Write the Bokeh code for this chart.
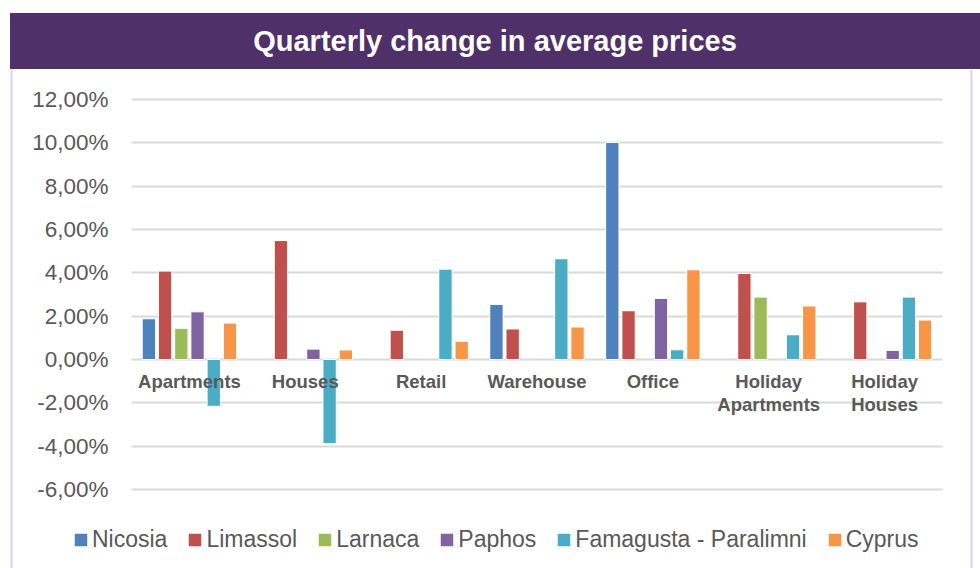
import numpy as np
from bokeh.plotting import figure
from bokeh.models import (ColumnDataSource, Range1d, FixedTicker, Legend, Div, Span)
from bokeh.transform import dodge
from bokeh.layouts import column
from bokeh.core.properties import value
from bokeh.embed import file_html
from bokeh.resources import INLINE

title_text = "Quarterly change in average prices"
categories = ["Apartments", "Houses", "Retail", "Warehouse", "Office", "Holiday Apartments", "Holiday Houses"]
category_labels = ["Apartments", "Houses", "Retail", "Warehouse", "Office", "Holiday\nApartments", "Holiday\nHouses"]
series_names = ["Nicosia", "Limassol", "Larnaca", "Paphos", "Famagusta - Paralimni", "Cyprus"]
nan = float("nan")
nicosia   = [1.88, nan, nan, 2.54, 10.02, nan, nan]
limassol  = [4.08, 5.49, 1.35, 1.41, 2.25, 3.97, 2.66]
larnaca   = [1.44, nan, nan, nan, nan, 2.88, nan]
paphos    = [2.20, 0.48, nan, nan, 2.82, nan, 0.42]
famagusta = [-2.16, -3.88, 4.17, 4.65, 0.45, 1.14, 2.88]
cyprus    = [1.68, 0.44, 0.84, 1.50, 4.14, 2.47, 1.82]
y_ticks = [-6, -4, -2, 0, 2, 4, 6, 8, 10, 12]
y_tick_labels = [f"{t:.2f}".replace(".", ",") + "%" for t in y_ticks]

colors = ["#4F81BD", "#C0504D", "#9BBB59", "#8064A2", "#4BACC6", "#F79646"]
series_values = [nicosia, limassol, larnaca, paphos, famagusta, cyprus]
text_col = "#595959"
FONT = "Liberation Sans"

# ---- banner ----
banner = Div(text=title_text, width=970, height=56, margin=(13, 0, 0, 10),
             styles={"background-color": "#4F3069", "color": "white", "font-size": "29px",
                     "font-weight": "bold", "font-family": FONT, "text-align": "center",
                     "line-height": "56px"})

# ---- main chart (frame fills the whole figure; plot area 131..942 px, 12% at 30px, -6% at 420px) ----
ncat = len(categories)
W, H = 980, 499
px_x = (942 - 131) / ncat            # pixels per category
px_y = (420 - 30) / (y_ticks[-1] - y_ticks[0])   # pixels per percentage point
x_range = Range1d(-131 / px_x, ncat + (W - 942) / px_x)
y_range = Range1d(y_ticks[0] - (H - 420) / px_y, y_ticks[-1] + 30 / px_y)

p = figure(width=W, height=H, x_range=x_range, y_range=y_range,
           x_axis_location=None, y_axis_location=None, toolbar_location=None,
           output_backend="svg", min_border=0)
p.min_border_left = p.min_border_right = p.min_border_top = p.min_border_bottom = 0
p.outline_line_color = None
p.xgrid.visible = False
p.ygrid.ticker = FixedTicker(ticks=y_ticks)
p.ygrid.grid_line_color = "#D9D9D9"
p.ygrid.grid_line_width = 2
p.ygrid.cross_bounds = (0, ncat)

# side borders of the chart panel
for loc in (11, 971):
    p.add_layout(Span(location=loc, location_units="screen", dimension="height",
                      line_color="#D9D2E9", line_width=2))

# y tick labels
tick_src = ColumnDataSource({"x": [0] * len(y_ticks), "y": y_ticks, "t": y_tick_labels})
p.text(x="x", y="y", text="t", source=tick_src, x_offset=-23, text_align="right",
       text_baseline="middle", text_font=value(FONT), text_font_size="22.5px", text_color=text_col)

data = {"x": [i + 0.5 for i in range(ncat)], "cat": categories, "label": category_labels,
        "zero": [0] * ncat}
for name, vals in zip(series_names, series_values):
    data[name] = np.array(vals, dtype=float)
src = ColumnDataSource(data)

n = len(series_names)
step = 0.14
renderers = []
for i, (name, col) in enumerate(zip(series_names, colors)):
    off = (i - (n - 1) / 2) * step
    r = p.vbar(x=dodge("x", off), top=name, width=0.115, source=src,
               fill_color=col, line_color="white", line_width=1)
    renderers.append((name, [r]))

p.text(x="x", y="zero", text="label", source=src, y_offset=11, text_align="center",
       text_baseline="top", text_font=value(FONT), text_font_style="bold",
       text_font_size="18.5px", text_color=text_col, text_line_height=1.1)

legend = Legend(items=renderers, orientation="horizontal", location=(72, 15),
                glyph_width=17, glyph_height=17, label_standoff=3, spacing=19,
                padding=0, margin=0, border_line_color=None, background_fill_alpha=0,
                label_text_font=FONT, label_text_font_size="23px", label_text_color=text_col)
p.add_layout(legend, "center")

layout = column(banner, p, spacing=0)
open("out.html", "w").write(file_html(layout, INLINE))
